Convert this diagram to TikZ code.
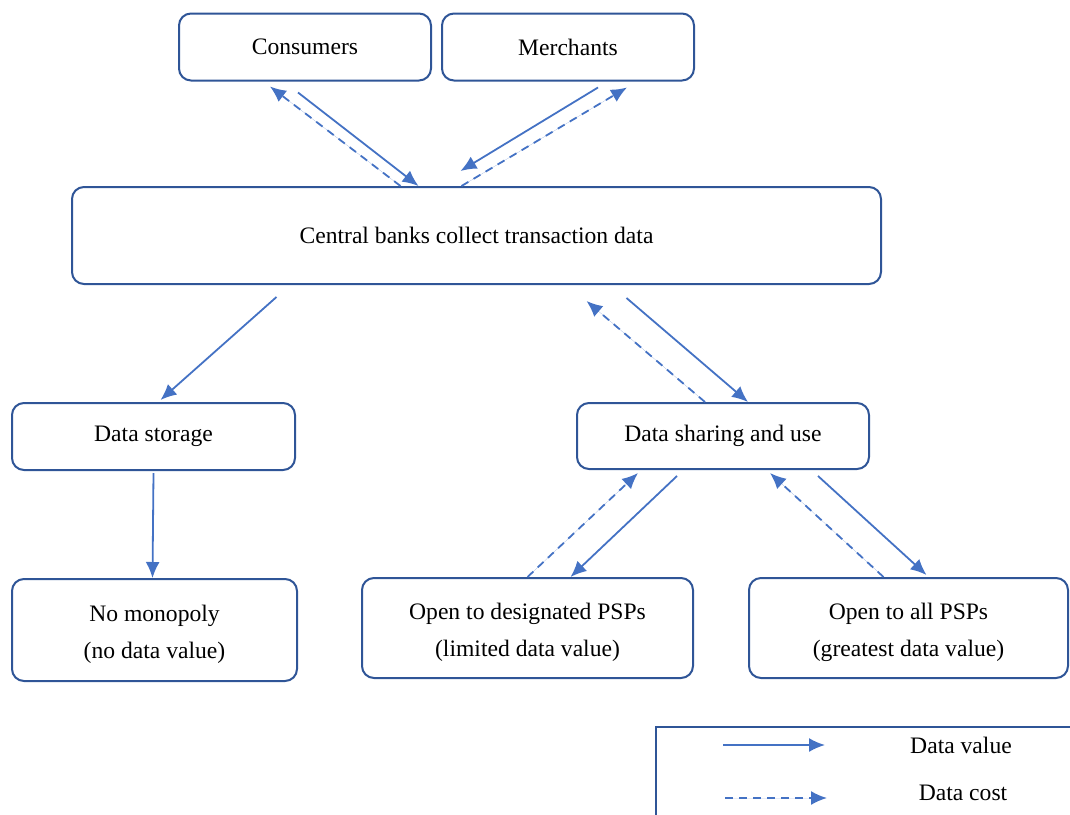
\documentclass[tikz,border=0pt]{standalone}
\usepackage{fontspec}
\setmainfont{Liberation Serif}
\usepackage{xcolor}
\usetikzlibrary{arrows.meta, positioning, calc}

\definecolor{boxblue}{HTML}{2F5597}
\definecolor{arrowblue}{HTML}{4472C4}
\newcommand{\topgap}{\rule{0pt}{12.5pt}}

\begin{document}
\begin{tikzpicture}[
        x = 0.5pt,
        y = -0.5pt,
        > = {Latex[width=7pt,length=8pt]},
        box/.style = {
            draw = boxblue,
            rectangle,
            line width = 1pt,
            rounded corners = 6pt,
            align = center,
            font = \fontsize{11.8}{18.5}\selectfont
        },
        valarrow/.style = {->, draw = arrowblue, fill = arrowblue, line width = 0.9pt},
        costarrow/.style = {valarrow, dash pattern = on 4pt off 3pt},
        every node/.style = {font=\fontsize{11.8}{18.5}\selectfont}
    ]

        \useasboundingbox (0,0) rectangle (1070,814);
        \clip (0,0) rectangle (1070,814);

        % boxes
        \node[box, minimum width=126pt, minimum height=33.5pt] (cons) at (305,47) {Consumers};
        \node[box, minimum width=126pt, minimum height=33.5pt, right=4.5pt of cons] (merch) {Merchants};
        \node[box, minimum width=404.5pt, minimum height=48.5pt] (cbank) at (476.5,235.5) {Central banks collect transaction data};
        \node[box, minimum width=141.5pt, minimum height=33.5pt] (store) at (153.5,436.5) {Data storage};
        \node[box, minimum width=146pt, minimum height=33pt] (share) at (723,436) {Data sharing and use};
        \node[box, minimum width=142.5pt, minimum height=51pt] (nomono) at (154.5,630) {\topgap No monopoly\\(no data value)};
        \node[box, minimum width=165.5pt, minimum height=50pt] (desig) at (527.5,628) {\topgap Open to designated PSPs\\(limited data value)};
        \node[box, minimum width=159.5pt, minimum height=50pt] (allpsp) at (908.5,628) {\topgap Open to all PSPs\\(greatest data value)};

        % top
        \draw[valarrow] ([shift={(-7,11)}]cons.south) -- ([shift={(-58,0)}]cbank.north);
        \draw[costarrow] ([shift={(-76,0)}]cbank.north) -- ([shift={(-35,5)}]cons.south);
        \draw[valarrow] ([shift={(30,6)}]merch.south) -- ([shift={(-16,-15)}]cbank.north);
        \draw[costarrow] ([shift={(-15,0)}]cbank.north) -- ([shift={(59,6)}]merch.south);

        % middle
        \draw[valarrow] ([shift={(-200,12)}]cbank.south) -- ([shift={(7,-2)}]store.north);
        \draw[costarrow] ([shift={(-18,0)}]share.north) -- ([shift={(110,16)}]cbank.south);
        \draw[valarrow] ([shift={(150,13)}]cbank.south) -- ([shift={(25,0)}]share.north);

        % bottom
        \draw[valarrow] ([shift={(0,2)}]store.south) -- ([shift={(-2,0)}]nomono.north);
        \draw[costarrow] (desig.north) -- ([shift={(-85,3)}]share.south);
        \draw[valarrow] ([shift={(-46,6)}]share.south) -- ([shift={(43,0)}]desig.north);
        \draw[costarrow] ([shift={(-25,0)}]allpsp.north) -- ([shift={(47,3)}]share.south);
        \draw[valarrow] ([shift={(95,6)}]share.south) -- ([shift={(18,-2)}]allpsp.north);

        % legend
        \draw[boxblue, line width=1pt] (656,727) rectangle (1090,840);
        \coordinate (lv1) at (723,745);
        \coordinate (lv2) at (825,745);
        \coordinate (lc1) at (725,798);
        \coordinate (lc2) at (827,798);
        \draw[valarrow] (lv1) -- (lv2);
        \draw[costarrow] (lc1) -- (lc2);
        \node (lvtext) at (961,745) {Data value};
        \node (lctext) at (963,793) {Data cost};

    \end{tikzpicture}
\end{document}
